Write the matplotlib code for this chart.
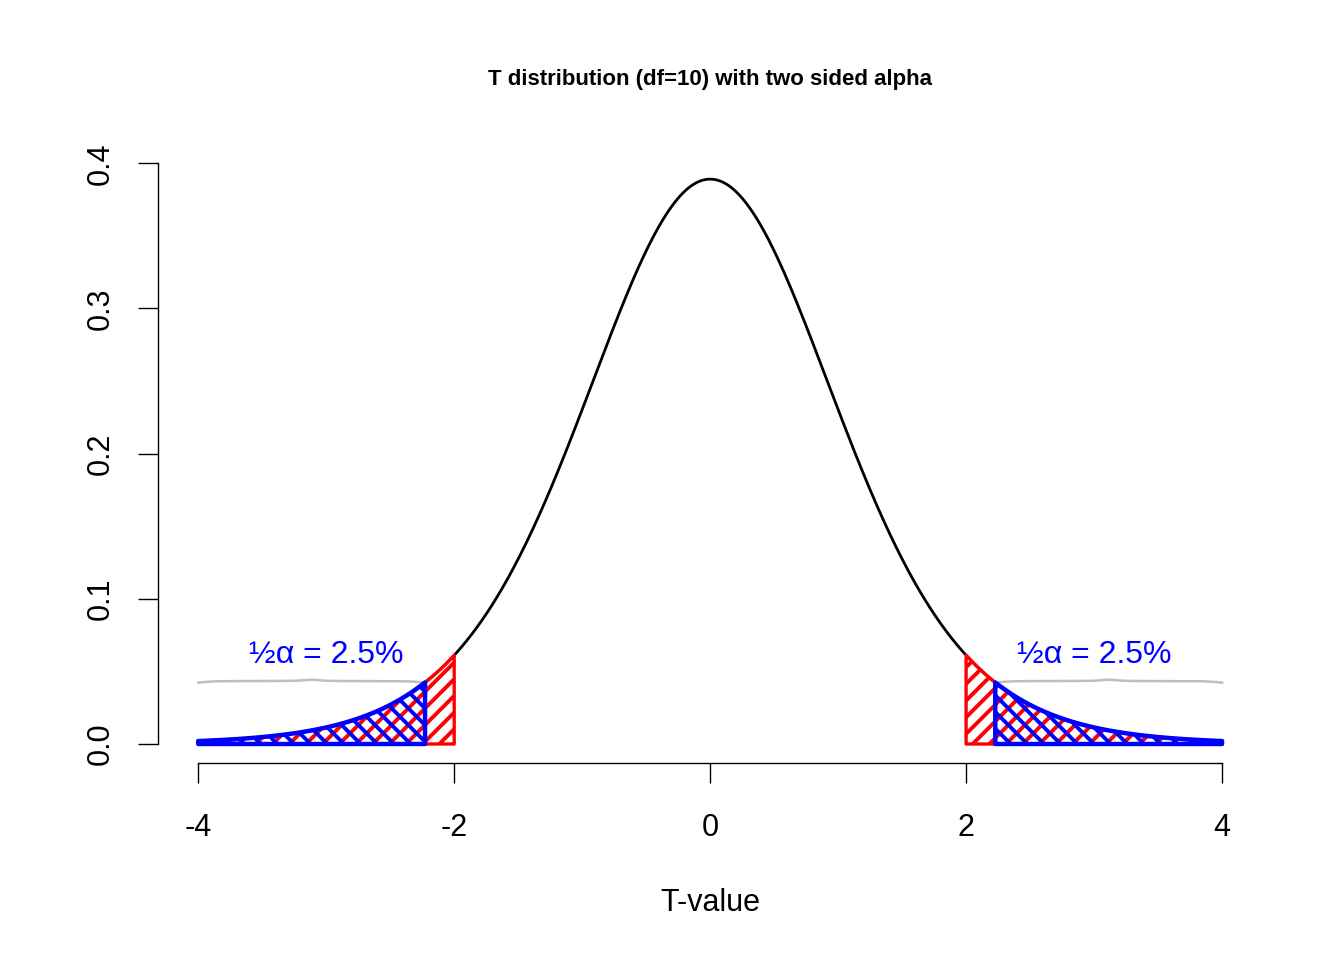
import math
import numpy as np
import matplotlib
matplotlib.use("Agg")
import matplotlib.pyplot as plt

# ---- data ----
df_t = 10
x_range = [-4, 4]
red_cut = 2.0          # red shaded tails |t| >= 2
blue_cut = 2.228       # critical value qt(0.975, 10)
label_text = "½α = 2.5%"
label_x = [-3.0, 3.0]
xticks = [-4, -2, 0, 2, 4]
yticks = [0.0, 0.1, 0.2, 0.3, 0.4]
title = "T distribution (df=10) with two sided alpha"
xlabel = "T-value"


def dt(t, df):
    c = math.gamma((df + 1) / 2) / (math.sqrt(df * math.pi) * math.gamma(df / 2))
    return c * (1 + np.asarray(t) ** 2 / df) ** (-(df + 1) / 2)


plt.rcParams['font.family'] = ['Liberation Sans', 'DejaVu Sans']
plt.rcParams['hatch.linewidth'] = 2.8

fig = plt.figure(figsize=(13.44, 9.6), dpi=100)
ax = fig.add_axes([157.7 / 1344, 196.7 / 960, (1262.6 - 157.7) / 1344, (816 - 196.7) / 960])
ax.set_xlim(-4.317, 4.317)
ax.set_ylim(-0.0133, 0.4133)

xs = np.linspace(x_range[0], x_range[1], 801)
ax.plot(xs, dt(xs, df_t), color='black', lw=2.0, zorder=2)

# red tails
for lo, hi in [(x_range[0], -red_cut), (red_cut, x_range[1])]:
    xx = np.linspace(lo, hi, 200)
    ax.fill_between(xx, 0, dt(xx, df_t), facecolor='none', edgecolor='red',
                    hatch='//', linewidth=2.4, zorder=3)
# blue tails
for lo, hi in [(x_range[0], -blue_cut), (blue_cut, x_range[1])]:
    xx = np.linspace(lo, hi, 200)
    ax.fill_between(xx, 0, dt(xx, df_t), facecolor='none', edgecolor='blue',
                    hatch='\\\\', linewidth=3.2, zorder=4)

# braces
yb = float(dt(blue_cut, df_t))
h = 0.0021
beta = 30.0


def brace(x0, x1, y):
    t = np.linspace(0, 0.5, 200)
    f = 1 / (1 + np.exp(-beta * t)) + 1 / (1 + np.exp(-beta * (t - 0.5))) - 0.5
    f = np.concatenate([f, f[::-1][1:]])
    tt = np.concatenate([t, 1 - t[::-1][1:]])
    return x0 + (x1 - x0) * tt, y + h * (f - 0.05)


for x0, x1 in [(x_range[0], -blue_cut), (blue_cut, x_range[1])]:
    bx, by = brace(x0, x1, yb)
    ax.plot(bx, by, color='#BEBEBE', lw=1.8, zorder=1)

for lx in label_x:
    ax.text(lx, 0.0555, label_text, color='blue', fontsize=23,
            ha='center', va='baseline')

# axes styling (R-like)
for s in ['top', 'right']:
    ax.spines[s].set_visible(False)
ax.spines['left'].set_bounds(0, 0.4)
ax.spines['bottom'].set_bounds(-4, 4)
for s in ['left', 'bottom']:
    ax.spines[s].set_linewidth(1.0)
ax.set_xticks(xticks)
ax.set_xticklabels([str(v) for v in xticks])
ax.set_yticks(yticks)
ax.set_yticklabels([f"{v:.1f}" for v in yticks], rotation=90, va='center')
ax.tick_params(axis='both', direction='out', length=14.4, width=1.0,
               labelsize=22)
ax.tick_params(axis='x', pad=21.5)
ax.tick_params(axis='y', pad=16)

ax.set_xlabel(xlabel, fontsize=22, labelpad=32)
fig.text(710 / 1344, 1 - 80 / 960, title, fontsize=16, fontweight='bold',
         ha='center', va='center')

fig.savefig("out.png", dpi=100)
